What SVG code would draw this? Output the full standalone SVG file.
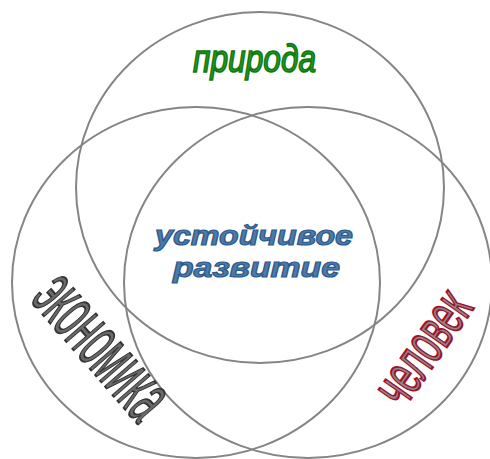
<svg xmlns="http://www.w3.org/2000/svg" width="490" height="459" viewBox="0 0 490 459">
<style>
.ring{fill:none;stroke:#858585;stroke-width:2}
.lbl{font-family:"Liberation Sans",Arial,sans-serif;text-anchor:middle}
.nat{font-style:italic;font-size:38px;fill:#2a922a;stroke:#0b7a0b;stroke-width:1.6}
.cen{font-style:italic;font-weight:bold;font-size:28px;fill:#5079a6;stroke:#2b5b8d;stroke-width:1.2}
.eco{font-size:77px;fill:#6a6a6a;stroke:#333333;stroke-width:2}
.hum{font-size:60px;fill:#8a8a8a;stroke:#a3102c;stroke-width:2.2}
</style>
<rect width="490" height="459" fill="#ffffff"/>
<g id="circles">
  <g id="circle-nature"><ellipse class="ring" cx="260" cy="187.5" rx="184" ry="175.5"/></g>
  <g id="circle-economy"><ellipse class="ring" cx="196" cy="282.5" rx="184" ry="175.5"/></g>
  <g id="circle-human"><ellipse class="ring" cx="308" cy="282.5" rx="184" ry="175.5"/></g>
</g>
<g id="label-nature"><text class="lbl nat" x="254.5" y="72" textLength="123" lengthAdjust="spacingAndGlyphs">природа</text></g>
<g id="label-center">
  <text class="lbl cen" x="254" y="245" textLength="198" lengthAdjust="spacingAndGlyphs">устойчивое</text>
  <text class="lbl cen" x="256.5" y="276.5" textLength="167" lengthAdjust="spacingAndGlyphs">развитие</text>
</g>
<g id="label-economy" transform="translate(99,349) rotate(49)"><text class="lbl eco" x="0" y="20" textLength="166" lengthAdjust="spacingAndGlyphs">экономика</text></g>
<g id="label-human" transform="translate(426,350) rotate(-55)"><text class="lbl hum" x="0" y="15.5" textLength="124" lengthAdjust="spacingAndGlyphs">человек</text></g>
</svg>
